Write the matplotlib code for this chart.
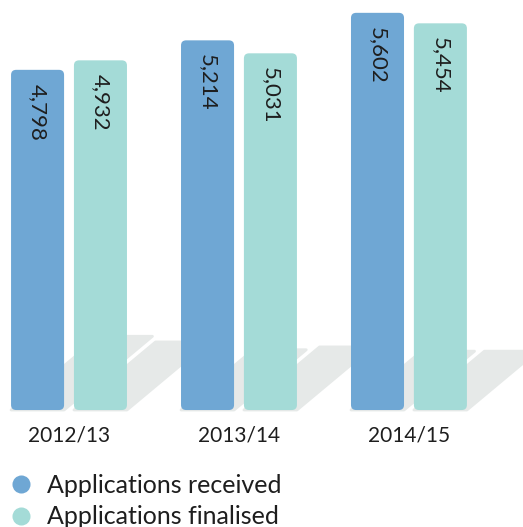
import matplotlib.pyplot as plt
from matplotlib.patches import FancyBboxPatch, Polygon
from matplotlib.lines import Line2D

years = ["2012/13", "2013/14", "2014/15"]
received = [4798, 5214, 5602]
finalised = [4932, 5031, 5454]
series_names = ["Applications received", "Applications finalised"]

BLUE = "#6fa7d4"
TEAL = "#a4dbd7"
SHADOW = "#e6e9e8"
TEXT = "#1e1e1e"
FONT = ["Lato", "DejaVu Sans"]

# decorative floor shadows (height in data units, then skewed to the right)
shadow_h = [[1040, 850, 830], [960, 890, 830]]
SKEW = 5.0e-4

W, H = 5.23, 5.27
XLIM = (-0.406, 2.671)
YLIM = (-1650, 5783)
BAR_W = 0.312
OFFSET = 0.185


def draw_bar(ax, x, value, color, aspect):
    # rounded-corner bar in data coordinates
    r = 0.03
    patch = FancyBboxPatch((x - BAR_W / 2, 0), BAR_W, value,
                           boxstyle=f"round,pad=0,rounding_size={r}",
                           mutation_aspect=aspect,
                           facecolor=color, edgecolor="none", zorder=3)
    ax.add_patch(patch)


def draw_shadow(ax, x, h):
    left, right = x - BAR_W / 2, x + BAR_W / 2
    dx = h * SKEW
    poly = Polygon([(left, 0), (right, 0), (right + dx, h), (left + dx, h)],
                   closed=True, facecolor=SHADOW, edgecolor=SHADOW,
                   linewidth=2, joinstyle="round", zorder=1)
    ax.add_patch(poly)


def plot_chart(output_path="out.png"):
    fig = plt.figure(figsize=(W, H), dpi=100)
    ax = fig.add_axes([0, 0, 1, 1])
    ax.set_xlim(*XLIM)
    ax.set_ylim(*YLIM)
    ax.axis("off")

    px_x = W * 100 / (XLIM[1] - XLIM[0])
    px_y = H * 100 / (YLIM[1] - YLIM[0])
    aspect = px_x / px_y

    for i, year in enumerate(years):
        xb = i - OFFSET
        xt = i + OFFSET
        draw_shadow(ax, xb, shadow_h[0][i])
        draw_shadow(ax, xt, shadow_h[1][i])
        draw_bar(ax, xb, received[i], BLUE, aspect)
        draw_bar(ax, xt, finalised[i], TEAL, aspect)

        for x, v in [(xb, received[i]), (xt, finalised[i])]:
            ax.annotate(f"{v:,}", xy=(x, v), xytext=(0, -10),
                        textcoords="offset points", rotation=-90,
                        ha="center", va="top", fontsize=16,
                        color=TEXT, family=FONT, zorder=4)

        ax.annotate(year, xy=(i, 0), xytext=(0, -18),
                    textcoords="offset points", ha="center", va="center",
                    fontsize=15, color=TEXT, family=FONT)

    handles = [Line2D([], [], linestyle="none", marker="o", markersize=13,
                      markerfacecolor=c, markeredgecolor="none")
               for c in (BLUE, TEAL)]
    ax.legend(handles, series_names, loc="upper left",
              bbox_to_anchor=(10 / 523, 1 - 474 / 527), bbox_transform=fig.transFigure,
              frameon=False, borderpad=0, borderaxespad=0,
              handlelength=0.9, handletextpad=0.6, labelspacing=0.33,
              prop={"family": FONT, "size": 18},
              labelcolor=TEXT)

    fig.savefig(output_path, dpi=100)
    plt.close(fig)


if __name__ == "__main__":
    plot_chart()
